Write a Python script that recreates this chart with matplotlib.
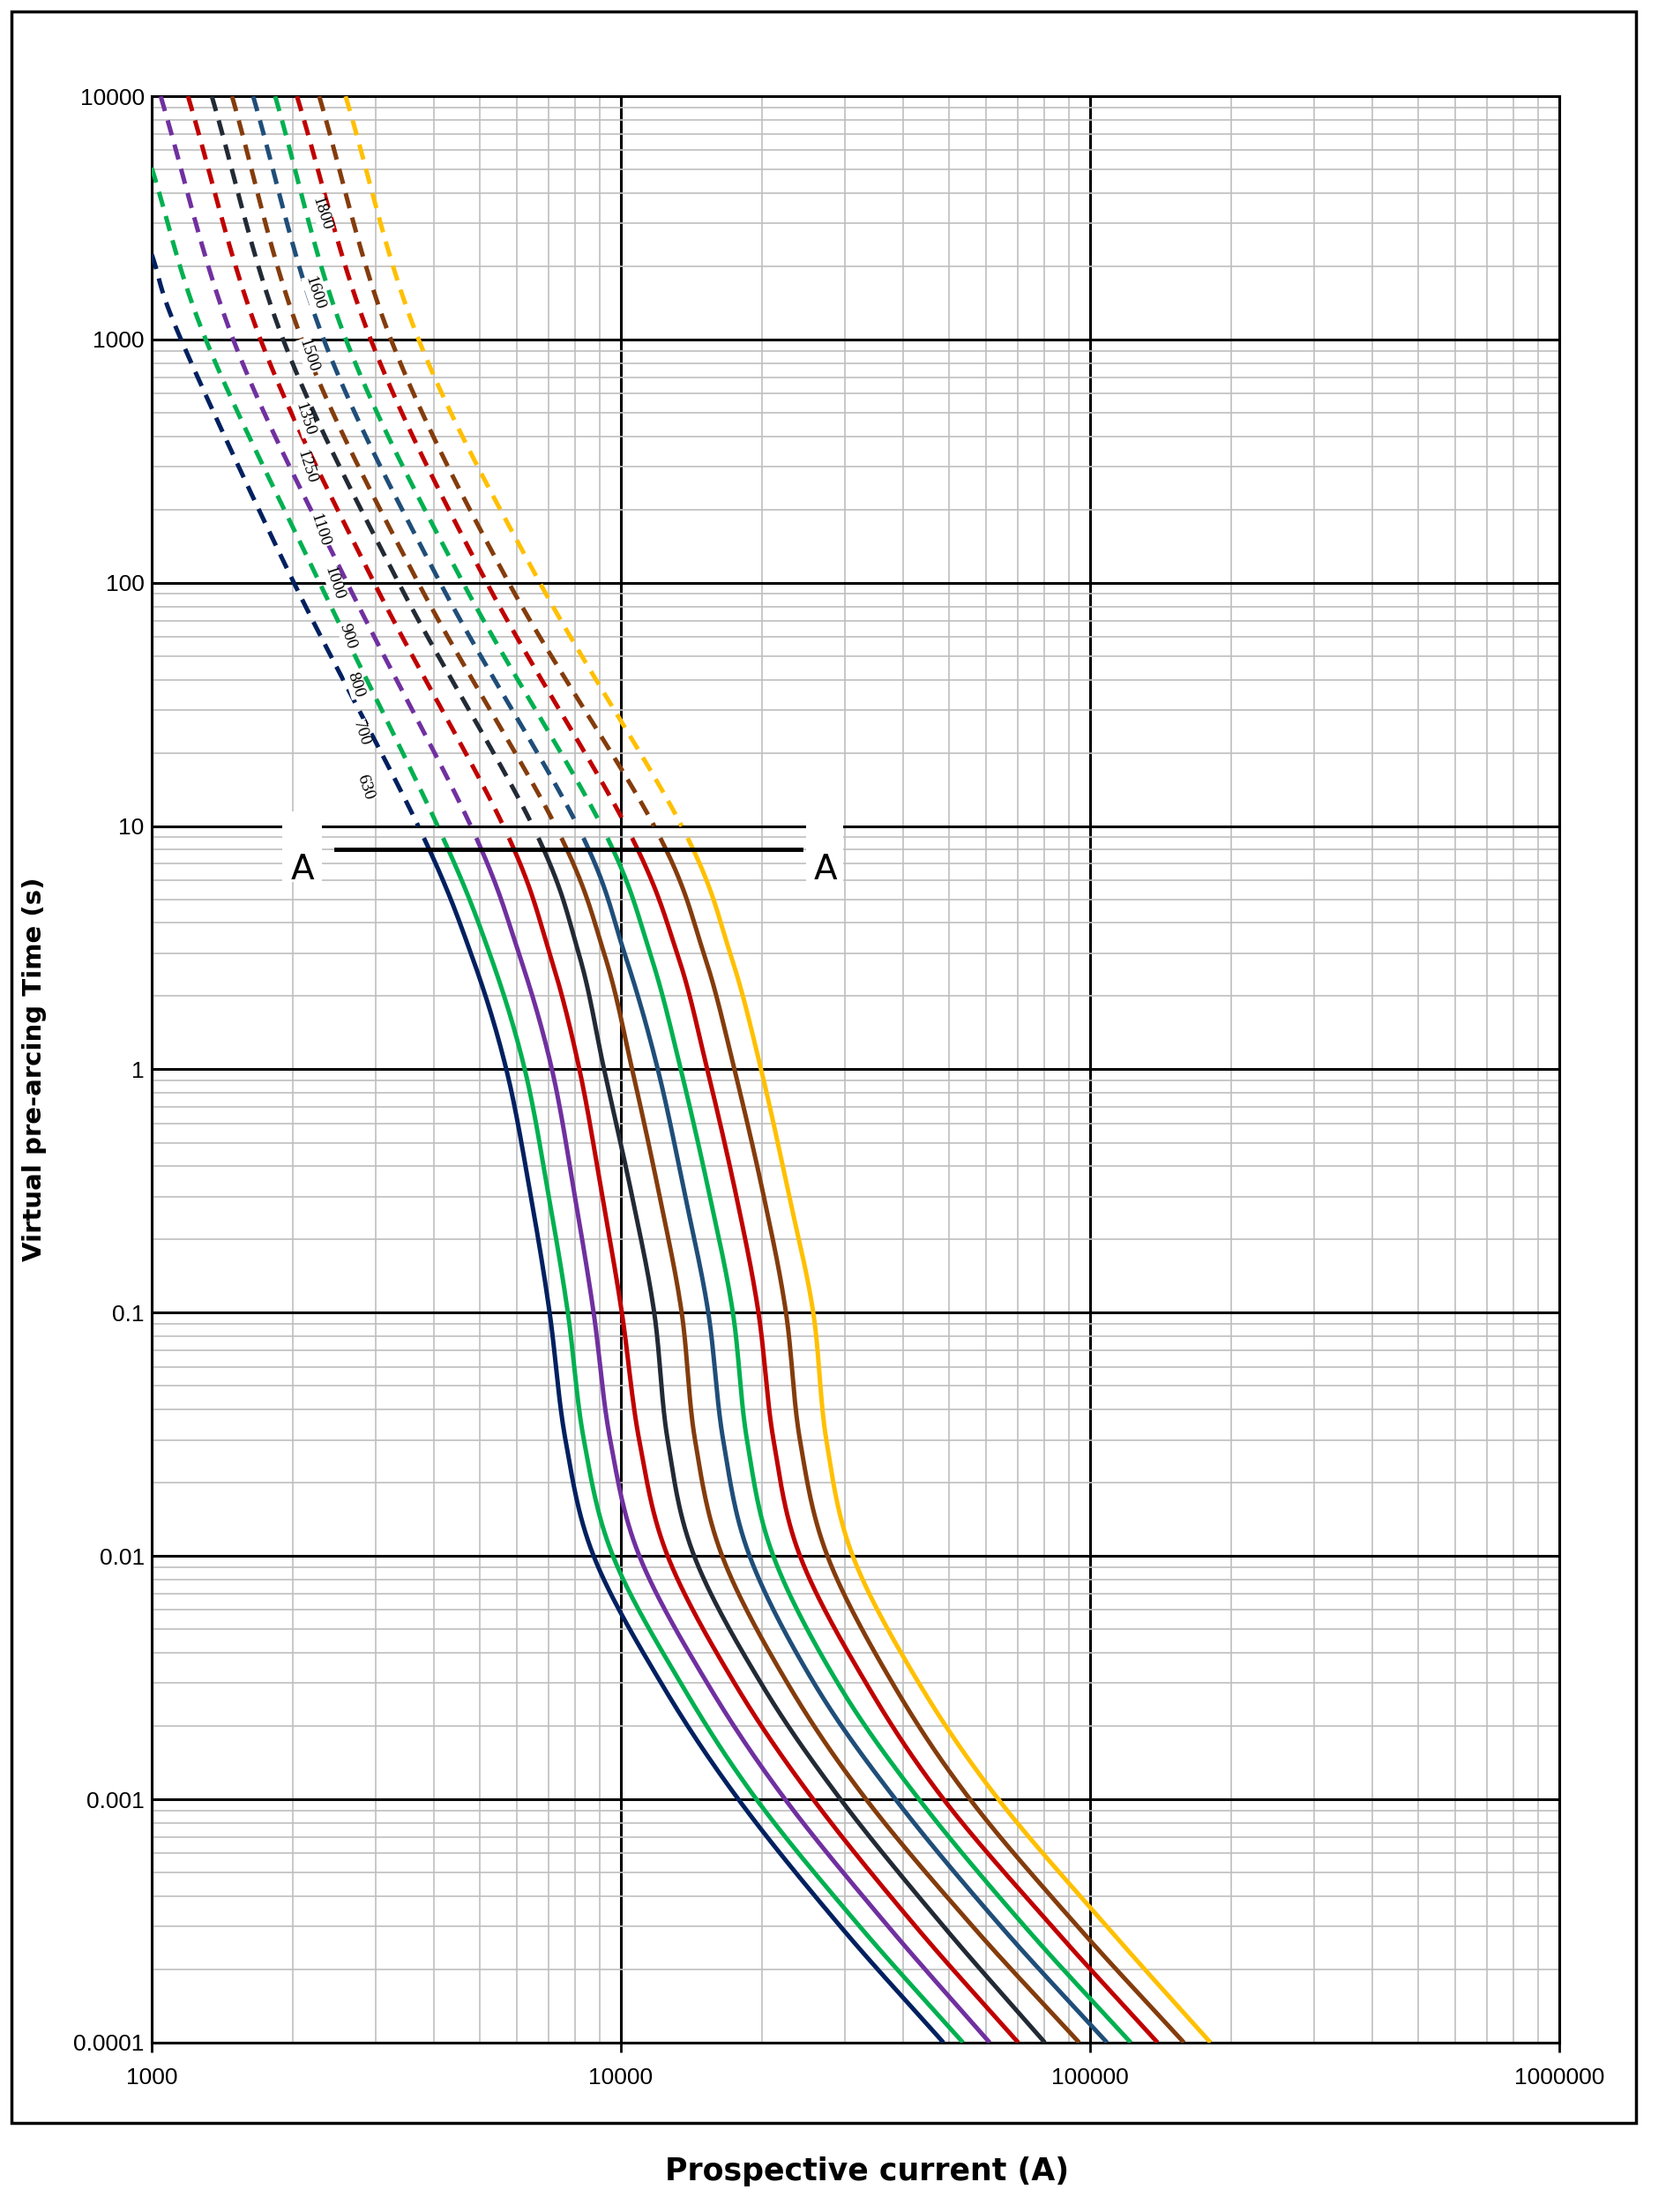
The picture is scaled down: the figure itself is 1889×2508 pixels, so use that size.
import numpy as np
import matplotlib.pyplot as plt
from matplotlib.patches import Rectangle

# ratings (A) and colours of each fuse curve
ratings = ["630", "700", "800", "900", "1000", "1100", "1250", "1350", "1500", "1600", "1800"]
colors = ["#002060", "#00B050", "#7030A0", "#C00000", "#222A35", "#843C0C",
          "#1F4E79", "#00B050", "#C00000", "#843C0C", "#FFC000"]

# first point of each curve (where it enters the plot)
top_current = [1000, 1000, 1045, 1195, 1343, 1483, 1645, 1833, 2040, 2275, 2590]
top_time = [2240, 5080, 1e4, 1e4, 1e4, 1e4, 1e4, 1e4, 1e4, 1e4, 1e4]

# prospective current (A) read at these pre-arcing times (s)
times = [1e3, 100, 10, 3, 1, 0.3, 0.1, 0.03, 0.01, 0.003, 0.001, 3e-4, 1e-4]
i_630 = [1155, 2010, 3700, 4790, 5700, 6430, 7050, 7620, 8750, 12190, 17800, 29380, 48700]
i_700 = [1304, 2280, 4070, 5250, 6240, 7020, 7710, 8340, 9620, 13420, 19450, 32300, 53600]
i_800 = [1492, 2610, 4790, 6060, 7130, 7980, 8750, 9490, 10950, 15280, 22390, 37150, 61100]
i_900 = [1706, 2980, 5620, 7050, 8160, 9130, 10050, 10940, 12580, 17470, 25700, 42500, 70300]
i_1000 = [1906, 3360, 6490, 8130, 9210, 10570, 11780, 12580, 14330, 19890, 29390, 48750, 80100]
i_1100 = [2090, 3700, 7260, 9210, 10570, 12100, 13480, 14390, 16440, 22650, 33320, 56240, 94800]
i_1250 = [2327, 4120, 8090, 10180, 11990, 13720, 15360, 16520, 18810, 25810, 38490, 64600, 108700]
i_1350 = [2594, 4610, 9100, 11540, 13420, 15480, 17330, 18570, 21130, 29000, 43190, 72600, 122100]
i_1500 = [2930, 5180, 10260, 13180, 15280, 17630, 19650, 21150, 24090, 33320, 48730, 83000, 139300]
i_1600 = [3236, 5770, 11780, 15020, 17460, 20170, 22490, 24080, 27560, 37930, 55480, 94100, 158500]
i_1800 = [3706, 6720, 13480, 17100, 19900, 22860, 25710, 27410, 31210, 43180, 63770, 108600, 180600]
curves = [i_630, i_700, i_800, i_900, i_1000, i_1100, i_1250, i_1350, i_1500, i_1600, i_1800]

# label anchors (current, time) for the rating labels
label_current = [2850, 2800, 2720, 2620, 2450, 2280, 2140, 2120, 2160, 2220, 2300]
label_time = [14.5, 24, 38, 60, 100, 165, 300, 470, 860, 1550, 3300]

# section line A-A
a_current = [2470, 24150]
a_time = 8.0


def catmull(x, y, n=30):
    # smooth the polyline in log space
    p = np.column_stack([x, y])
    p = np.vstack([2 * p[0] - p[1], p, 2 * p[-1] - p[-2]])
    out = []
    for i in range(1, len(p) - 2):
        p0, p1, p2, p3 = p[i - 1], p[i], p[i + 1], p[i + 2]
        s = np.linspace(0, 1, n, endpoint=False)[:, None]
        out.append(0.5 * ((2 * p1) + (-p0 + p2) * s + (2 * p0 - 5 * p1 + 4 * p2 - p3) * s ** 2
                          + (-p0 + 3 * p1 - 3 * p2 + p3) * s ** 3))
    out.append(p[-2][None, :])
    out = np.vstack(out)
    return out[:, 0], out[:, 1]


fig = plt.figure(figsize=(18.9, 25.08), dpi=100)
ax = fig.add_axes([0.091, 0.0766, 0.8444, 0.8799])
ax.set_xscale("log")
ax.set_yscale("log")
ax.set_xlim(1000, 1e6)
ax.set_ylim(1e-4, 1e4)

ax.grid(which="minor", color="#BFBFBF", lw=1.2, zorder=0)
ax.grid(which="major", color="black", lw=2.2, zorder=0.5)
for s in ax.spines.values():
    s.set_linewidth(2.2)

for cur, t0, i0, col in zip(curves, top_time, top_current, colors):
    lx = np.log10([i0] + cur)
    ly = np.log10([t0] + times)
    sx, sy = catmull(lx, ly)
    I, T = 10 ** sx, 10 ** sy
    d = T >= 9.8
    s = T <= 9.0
    ax.plot(I[d], T[d], color=col, lw=3.6, dashes=(3.5, 2.2), zorder=3)
    ax.plot(I[s], T[s], color=col, lw=3.6, zorder=3, solid_capstyle="butt")

for txt, x, y in zip(ratings, label_current, label_time):
    ax.text(x, y, txt, rotation=-72, fontsize=14, family="Liberation Serif",
            ha="center", va="center", zorder=5,
            bbox=dict(facecolor="white", edgecolor="none", pad=0.5))

# section A-A
ax.plot(a_current, [a_time, a_time], color="black", lw=3.5, zorder=4)
for x0, x1 in [(1897, 2305), (24800, 29800)]:
    ax.add_patch(Rectangle((x0, 5.9), x1 - x0, 11.5 - 5.9, facecolor="white",
                           edgecolor="none", zorder=4))
ax.text(2100, 6.6, "A", fontsize=28, ha="center", va="center", zorder=5)
ax.text(27300, 6.6, "A", fontsize=28, ha="center", va="center", zorder=5)

ax.set_xticks([1e3, 1e4, 1e5, 1e6])
ax.set_xticklabels(["1000", "10000", "100000", "1000000"])
ax.set_yticks([1e-4, 1e-3, 1e-2, 0.1, 1, 10, 100, 1e3, 1e4])
ax.set_yticklabels(["0.0001", "0.001", "0.01", "0.1", "1", "10", "100", "1000", "10000"])
ax.tick_params(which="major", labelsize=19, length=8, width=2, pad=12)
ax.tick_params(which="minor", length=0)
ax.tick_params(axis="y", which="major", length=0, pad=6)
for lab in ax.get_xticklabels() + ax.get_yticklabels():
    lab.set_family("Liberation Sans")

ax.set_ylabel("Virtual pre-arcing Time (s)", fontsize=21, fontweight="bold", labelpad=22)
fig.text(0.52, 0.0184, "Prospective current (A)", fontsize=25, fontweight="bold",
         ha="center", va="center")

fig.patches.append(Rectangle((13 / 1890, 1 - 2407 / 2508), 1842 / 1890, 2394 / 2508,
                             transform=fig.transFigure, fill=False, edgecolor="black",
                             lw=2.5))

fig.savefig("out.png", dpi=100, facecolor="white")
